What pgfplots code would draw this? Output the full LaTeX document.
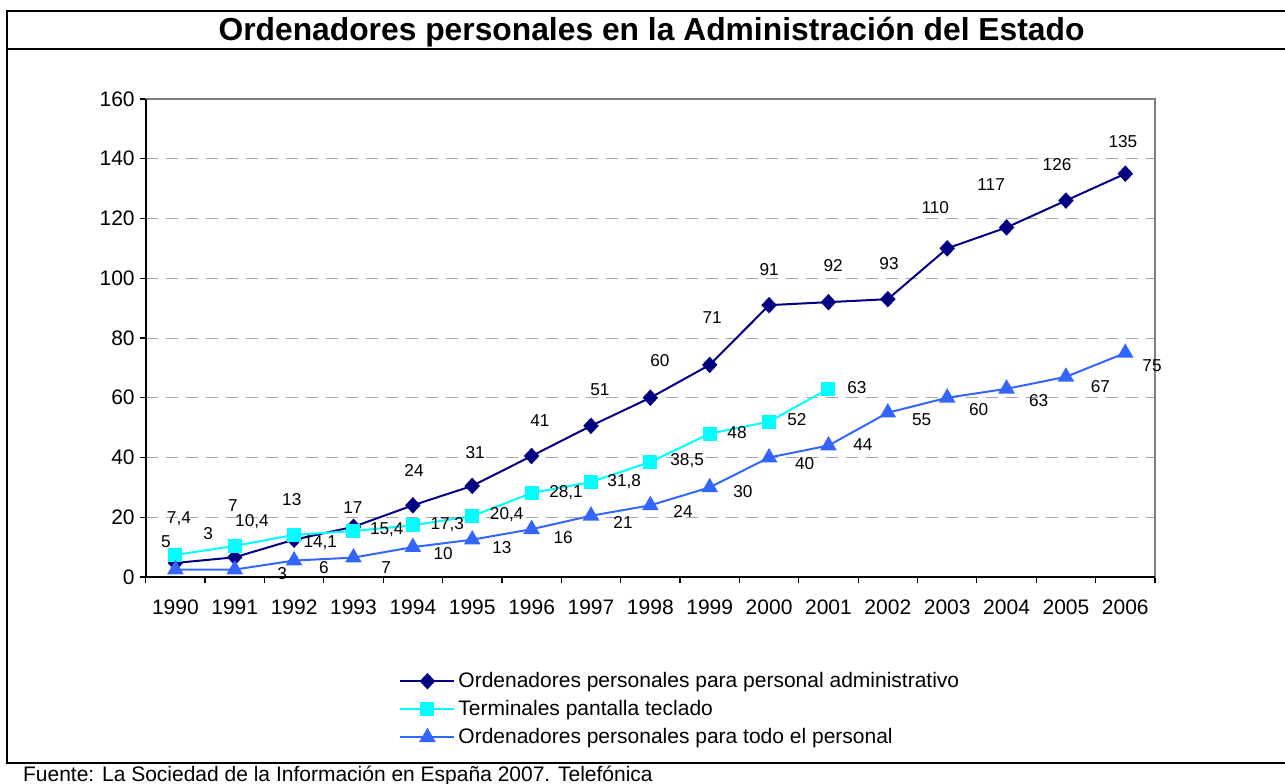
\documentclass[border=0pt]{standalone}
\usepackage{fontspec}
\setmainfont{Liberation Sans}
\usepackage{pgfplots}
\pgfplotsset{compat=1.18}
\usepackage{pgfplotstable}
\definecolor{sA}{RGB}{0,0,128}
\definecolor{sB}{RGB}{0,255,255}
\definecolor{sC}{RGB}{51,102,255}
\definecolor{gridc}{RGB}{165,165,165}
\definecolor{framec}{RGB}{128,128,128}

\pgfplotstableread{
year v
1990 4.7
1991 6.6
1992 12.5
1993 16.8
1994 24
1995 30.5
1996 40.5
1997 50.6
1998 60
1999 71
2000 91
2001 92
2002 93
2003 110
2004 117
2005 126
2006 135
}\adm
\pgfplotstableread{
year v
1990 7.4
1991 10.4
1992 14.1
1993 15.4
1994 17.3
1995 20.4
1996 28.1
1997 31.8
1998 38.5
1999 48
2000 52
2001 63
}\term
\pgfplotstableread{
year v
1990 2.5
1991 2.5
1992 5.5
1993 6.5
1994 10
1995 12.5
1996 16
1997 20.5
1998 24
1999 30
2000 40
2001 44
2002 55
2003 60
2004 63
2005 67
2006 75
}\todo
% label positions
\pgfplotstableread{
x y t
1989.84 11.7 5
1990.97 23.8 7
1991.96 25.8 13
1992.99 23.1 17
1994.02 35.8 24
1995.05 41.8 31
1996.14 52.2 41
1997.15 62.6 51
1998.16 72.6 60
1999.04 86.7 71
2000.00 102.8 91
2001.08 104.1 92
2002.02 104.8 93
2002.80 123.5 110
2003.74 131.5 117
2004.85 138.2 126
2005.96 145.9 135
}\labA
\pgfplotstableread{
x y t
1990.06 19.4 7,4
1991.29 18.7 10,4
1992.44 11.4 14,1
1993.56 15.7 15,4
1994.58 17.4 17,3
1995.58 20.8 20,4
1996.58 28.1 28,1
1997.56 32.1 31,8
1998.62 38.8 38,5
1999.46 48.5 48
2000.47 52.6 52
2001.48 63.3 63
}\labB
\pgfplotstableread{
x y t
1990.55 14.4 3
1991.80 1.3 3
1992.50 3.3 6
1993.55 3.3 7
1994.51 7.7 10
1995.50 10.0 13
1996.53 13.1 16
1997.54 18.4 21
1998.55 21.8 24
1999.56 28.5 30
2000.60 37.8 40
2001.58 44.2 44
2002.57 52.6 55
2003.53 55.9 60
2004.54 59.2 63
2005.58 63.9 67
2006.45 70.6 75
}\labC

\pgfplotsset{
  lbl/.style={draw=none, mark=none, forget plot,
    point meta=explicit symbolic,
    nodes near coords={\pgfplotspointmeta},
    every node near coord/.append style={anchor=center, inner sep=0pt,
      font=\fontsize{8.6}{10}\selectfont, text=black}},
}

\begin{document}
\begin{tikzpicture}
\useasboundingbox (0pt,0pt) rectangle (642.5pt,391.5pt);
% frame
\draw[line width=1pt] (660pt,386pt) -- (3.5pt,386pt) -- (3.5pt,10pt) -- (660pt,10pt);
\draw[line width=1pt] (3.5pt,367.15pt) -- (660pt,367.15pt);
\node at (325.75pt,375.6pt) {\fontsize{15.9}{18}\selectfont\bfseries Ordenadores personales en la Administración del Estado};
\node[anchor=base west, inner sep=0pt] at (11.35pt,0.6pt) {\fontsize{10.5}{12}\selectfont Fuente: La Sociedad de la Información en España 2007. Telefónica};

\begin{axis}[
  at={(72.85pt,103pt)}, anchor=south west,
  width=504.65pt, height=239pt, scale only axis,
  xmin=1989.5, xmax=2006.5, ymin=0, ymax=160,
  xtick={1989.5,1990.5,1991.5,1992.5,1993.5,1994.5,1995.5,1996.5,1997.5,1998.5,1999.5,2000.5,2001.5,2002.5,2003.5,2004.5,2005.5,2006.5},
  xticklabels={1990,1991,1992,1993,1994,1995,1996,1997,1998,1999,2000,2001,2002,2003,2004,2005,2006},
  x tick label as interval,
  ytick={0,20,...,160},
  xtick pos=bottom, ytick pos=left,
  tick align=outside,
  major tick length=3pt,
  tick style={black, line width=0.6pt},
  ymajorgrids,
  grid style={gridc, dash pattern=on 6pt off 4pt, line width=0.5pt},
  axis line style={framec, line width=0.8pt},
  ticklabel style={font=\fontsize{10.5}{12}\selectfont},
  yticklabel style={xshift=1pt},
  xticklabel style={yshift=-5pt},
  /pgf/number format/assume math mode=true,
  /pgf/number format/1000 sep={},
  clip=false,
  legend style={at={(0.251,-0.19)}, anchor=north west, draw=none, fill=none,
    inner sep=0pt, row sep=1pt, font=\fontsize{10.5}{12}\selectfont,
    nodes={inner sep=1.5pt, text height=8pt, text depth=2pt}},
  legend cell align=left,
  legend image code/.code={\draw[mark repeat=2, mark phase=2, #1] plot coordinates {(0pt,0pt) (13.5pt,0pt) (27pt,0pt)};},
]
\addplot[sA, line width=1pt, mark=diamond*, mark size=3.4pt, mark options={fill=sA, xscale=1.25}] table[x=year,y=v]{\adm};
\addlegendentry{Ordenadores personales para personal administrativo}
\addplot[sB, line width=1pt, mark=square*, mark size=3pt, mark options={fill=sB}] table[x=year,y=v]{\term};
\addlegendentry{Terminales pantalla teclado}
\addplot[sC, line width=1pt, mark=triangle*, mark size=3.8pt, mark options={fill=sC}] table[x=year,y=v]{\todo};
\addlegendentry{Ordenadores personales para todo el personal}
\addplot[lbl] table[x=x,y=y,meta=t]{\labA};
\addplot[lbl] table[x=x,y=y,meta=t]{\labB};
\addplot[lbl] table[x=x,y=y,meta=t]{\labC};
\draw[black, line width=0.8pt] (rel axis cs:0,1) -- (rel axis cs:0,0) -- (rel axis cs:1,0);
\end{axis}
\end{tikzpicture}
\end{document}
